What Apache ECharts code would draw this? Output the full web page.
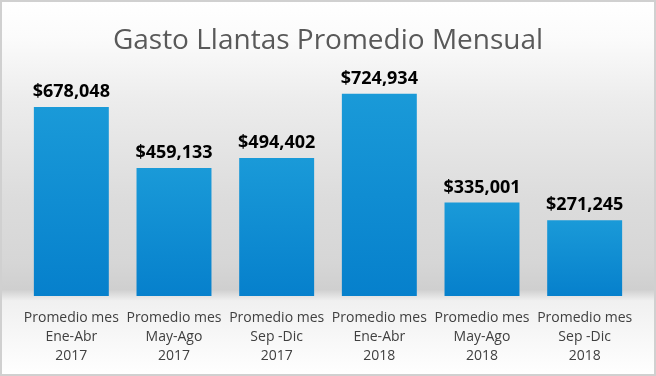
<!DOCTYPE html>
<html>
<head>
<meta charset="utf-8">
<script src="https://cdn.jsdelivr.net/npm/echarts@6/dist/echarts.min.js"></script>
<style>
  html, body { margin: 0; padding: 0; background: #fff; }
  #main { width: 656px; height: 376px; }
</style>
</head>
<body>
<div id="main"></div>
<script>
// periodos y valores del gasto
var periodos = ['Promedio mes\nEne-Abr\n2017', 'Promedio mes\nMay-Ago\n2017', 'Promedio mes\nSep -Dic\n2017',
                'Promedio mes\nEne-Abr\n2018', 'Promedio mes\nMay-Ago\n2018', 'Promedio mes\nSep -Dic\n2018'];
var gasto = [678048, 459133, 494402, 724934, 335001, 271245];

function formatoPeso(v) {
    return '$' + v.toString().replace(/\B(?=(\d{3})+(?!\d))/g, ',');
}

var myChart = echarts.init(document.getElementById('main'));
var option = {
    animation: false,
    title: {
        text: 'Gasto Llantas Promedio Mensual',
        left: 'center', top: 22,
        textStyle: {fontFamily: 'Open Sans', fontWeight: 'normal', fontSize: 28, color: '#595959'}
    },
    graphic: [
        {
            type: 'rect', z: -10, silent: true,
            shape: {x: 0, y: 0, width: 656, height: 376},
            style: {
                fill: new echarts.graphic.LinearGradient(0, 0, 0, 1, [
                    {offset: 0, color: '#ffffff'},
                    {offset: 0.1, color: '#fbfbfb'},
                    {offset: 0.27, color: '#ececec'},
                    {offset: 0.53, color: '#dcdcdc'},
                    {offset: 0.7, color: '#d6d6d6'},
                    {offset: 0.77, color: '#cfcfcf'},
                    {offset: 0.8, color: '#f0f0f0'},
                    {offset: 1, color: '#ffffff'}
                ])
            }
        },
        {
            type: 'rect', z: 100, silent: true,
            shape: {x: 1, y: 1, width: 654, height: 374},
            style: {fill: 'none', stroke: '#d0d0d0', lineWidth: 2}
        }
    ],
    grid: {left: 20, right: 20, top: 45, bottom: 80},
    xAxis: {
        type: 'category',
        data: periodos,
        axisLine: {show: false},
        axisTick: {show: false},
        axisLabel: {
            margin: 13, interval: 0,
            color: '#404040', fontFamily: 'Open Sans', fontSize: 14, lineHeight: 19
        }
    },
    yAxis: {
        type: 'value', min: 0, max: 900000,
        show: false
    },
    series: [{
        type: 'bar',
        data: gasto,
        barCategoryGap: '27%',
        itemStyle: {
            color: new echarts.graphic.LinearGradient(0, 0, 0, 1, [
                {offset: 0, color: '#1a9ad8'},
                {offset: 1, color: '#0680cc'}
            ])
        },
        label: {
            show: true, position: 'top', distance: 6,
            fontFamily: 'Open Sans', fontWeight: 'bold', fontSize: 18, color: '#000',
            formatter: function (p) { return formatoPeso(p.value); }
        }
    }]
};
myChart.setOption(option);
</script>
</body>
</html>
